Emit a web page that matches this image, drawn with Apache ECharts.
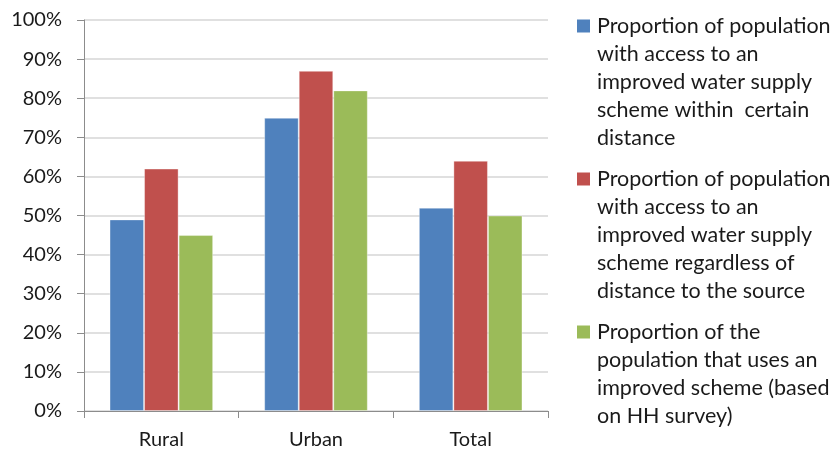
<!DOCTYPE html>
<html>
<head>
<meta charset="utf-8">
<script src="https://cdn.jsdelivr.net/npm/echarts@6/dist/echarts.min.js"></script>
<style>
  html, body { margin: 0; padding: 0; background: #fff; }
  #chart { width: 835px; height: 451px; }
</style>
</head>
<body>
<div id="chart"></div>
<script>
const categories = ['Rural', 'Urban', 'Total'];
const seriesNames = [
  'Proportion of population with access to an improved water supply scheme within  certain distance',
  'Proportion of population with access to an improved water supply scheme regardless of distance to the source',
  'Proportion of the population that uses an improved scheme (based on HH survey)',
];
// how the legend text wraps in the picture
const legendLines = [
  ['Proportion of population', 'with access to an', 'improved water supply', 'scheme within  certain', 'distance'],
  ['Proportion of population', 'with access to an', 'improved water supply', 'scheme regardless of', 'distance to the source'],
  ['Proportion of the', 'population that uses an', 'improved scheme (based', 'on HH survey)'],
];
const withinDistance = [49, 75, 52];
const regardlessDistance = [62, 87, 64];
const usesImproved = [45, 82, 50];
const colors = ['#4f81bd', '#c0504d', '#9bbb59'];

const chart = echarts.init(document.getElementById('chart'));
const font = 'Lato';
const textColor = '#1a1a1a';

const rich = {
  t: { fontFamily: font, fontSize: 21.5, color: textColor, lineHeight: 28 },
  i: { width: 20, height: 12 },
  g: { width: 7, height: 12 },
};
colors.forEach((c, k) => {
  rich['s' + k] = { width: 13, height: 13, backgroundColor: c };
});

const option = {
  animation: false,
  color: colors,
  grid: {
    left: 84,
    top: 20,
    right: 287,
    bottom: 40,
  },
  legend: {
    orient: 'vertical',
    left: 572,
    top: 15,
    padding: 0,
    itemGap: 19,
    itemWidth: 0,
    itemHeight: 12,
    icon: 'none',
    selectedMode: false,
    data: seriesNames,
    formatter(name) {
      const k = seriesNames.indexOf(name);
      return legendLines[k].map((line, j) => (j === 0
        ? '{s' + k + '|}{g|}{t|' + line + '}'
        : '{i|}{t|' + line + '}')).join('\n');
    },
    textStyle: { rich },
  },
  xAxis: {
    type: 'category',
    data: categories,
    axisLine: { lineStyle: { color: '#8c8c8c', width: 1 } },
    axisTick: { show: true, length: 7, lineStyle: { color: '#8c8c8c' } },
    axisLabel: {
      fontFamily: font,
      fontSize: 20,
      color: textColor,
      margin: 19,
    },
  },
  yAxis: {
    type: 'value',
    min: 0,
    max: 100,
    interval: 10,
    axisLine: { show: true, lineStyle: { color: '#8c8c8c', width: 1 } },
    axisTick: { show: true, length: 7, lineStyle: { color: '#8c8c8c' } },
    splitLine: { lineStyle: { color: '#d6d6d6', width: 1.5 } },
    axisLabel: {
      fontFamily: font,
      fontSize: 20,
      color: textColor,
      margin: 22,
      formatter: '{value}%',
    },
  },
  series: [withinDistance, regardlessDistance, usesImproved].map((d, k) => ({
    name: seriesNames[k],
    type: 'bar',
    data: d,
    barGap: '0%',
    barCategoryGap: '33%',
    itemStyle: {
      color: colors[k],
      borderColor: 'rgba(255,255,255,0.35)',
      borderWidth: 1,
    },
  })),
};

chart.setOption(option);
</script>
</body>
</html>
